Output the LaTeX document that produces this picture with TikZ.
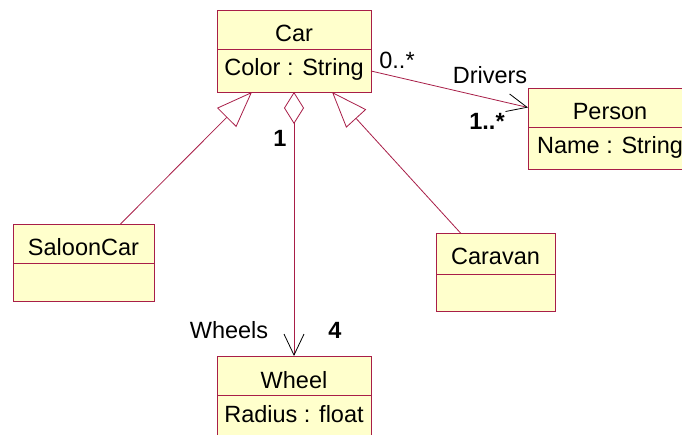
\documentclass[tikz,border=0pt]{standalone}
\usepackage{fontspec}
\setmainfont{Liberation Sans}
\usetikzlibrary{positioning}
\usetikzlibrary{arrows.meta}
\definecolor{umlred}{RGB}{168,30,72}
\definecolor{umlfill}{RGB}{255,255,204}
\tikzstyle{clh}=[draw=umlred,fill=umlfill,line width=0.8pt,inner sep=0pt,outer sep=0pt,anchor=north,text height=32pt,text depth=7pt]
\tikzstyle{cla}=[draw=umlred,fill=umlfill,line width=0.8pt,inner sep=0pt,outer sep=0pt,text height=27pt,text depth=16pt]
\tikzstyle{gen}=[draw=umlred,line width=0.8pt,-{Triangle[open,length=36pt,width=27pt]}]
\tikzstyle{aggr}=[draw=umlred,line width=0.8pt,{Diamond[open,length=32pt,width=20pt]}-{Straight Barb[color=black,length=21pt,width=20pt]}]
\tikzstyle{assoc}=[draw=umlred,line width=0.8pt,-{Straight Barb[color=black,length=20pt,width=18pt]}]
\tikzstyle{lbl}=[inner sep=0pt]

\begin{document}
\begin{tikzpicture}[x=1pt,y=-1pt,font=\fontsize{23.5}{28}\selectfont]
  \clip (0,0) rectangle (682,435);
  \fill[white] (0,0) rectangle (682,435);
  \node [clh,minimum width=154pt] (carhead) at (294,10) {Car};
  \node [cla,minimum width=154pt] (carattr) [below=0pt of carhead] {Color : String};
  \node [clh,minimum width=164pt] (personhead) at (610,88) {Person};
  \node [cla,minimum width=164pt,text depth=15pt] (personattr) [below=0pt of personhead] {Name : String};
  \node [clh,minimum width=141pt] (saloonhead) at (83.5,224) {SaloonCar};
  \node [cla,minimum width=141pt,text depth=11pt] (saloonattr) [below=0pt of saloonhead] {};
  \node [clh,minimum width=119pt,text depth=9pt] (caravanhead) at (495.5,233) {Caravan};
  \node [cla,minimum width=119pt,text depth=10pt] (caravanattr) [below=0pt of caravanhead] {};
  \node [clh,minimum width=154pt] (wheelhead) at (294,356) {Wheel};
  \node [cla,minimum width=154pt] (wheelattr) [below=0pt of wheelhead] {Radius : float};

  \draw [gen] ([xshift=37pt]saloonhead.north) -- ([xshift=-42pt]carattr.south);
  \draw [gen] ([xshift=-35pt]caravanhead.north) -- ([xshift=38pt]carattr.south);
  \draw [aggr] (carattr.south) -- (wheelhead.north);
  \draw [assoc] ([yshift=-22pt]carattr.north east) -- (personhead.west);

  \node [lbl] (carmult) at (397,60) {0..*};
  \node [lbl] (drivers) at (490,75) {Drivers};
  \node [lbl] (personmult) at (487,121) {\textbf{1..*}};
  \node [lbl] (wholemult) at (280,138) {\textbf{1}};
  \node [lbl] (wheels) at (229,330) {Wheels};
  \node [lbl] (wheelmult) at (335,330) {\textbf{4}};
\end{tikzpicture}
\end{document}
